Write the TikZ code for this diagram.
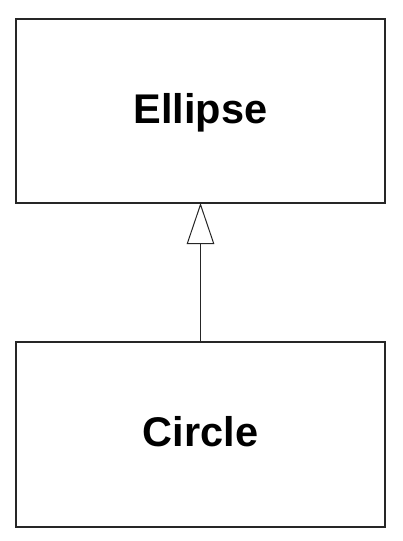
\documentclass[tikz,border=0pt]{standalone}
\usepackage{fontspec}
\setmainfont{Liberation Sans}
\usetikzlibrary{arrows.meta}
\begin{document}
\begin{tikzpicture}[x=1pt,y=-1pt]
\tikzset{
  classbox/.style={draw=black!85, line width=2pt, rectangle, minimum width=369pt, minimum height=184pt, inner sep=0pt,
    font=\fontsize{41.5}{48}\selectfont\bfseries, text height=29pt, text depth=5pt},
  inherit/.style={line width=1.2pt, draw=black!85, -{Triangle[open, length=41pt, width=27.5pt, line width=1pt]}, shorten >=-1pt}
}
\useasboundingbox (0,0) rectangle (402,541);
\node[classbox] (ellipse) at (200.5,111) {Ellipse};
\node[classbox, minimum height=185pt] (circle) at (200.5,434.2) {Circle};
\draw[inherit] (circle.north) -- (ellipse.south);
\end{tikzpicture}
\end{document}
